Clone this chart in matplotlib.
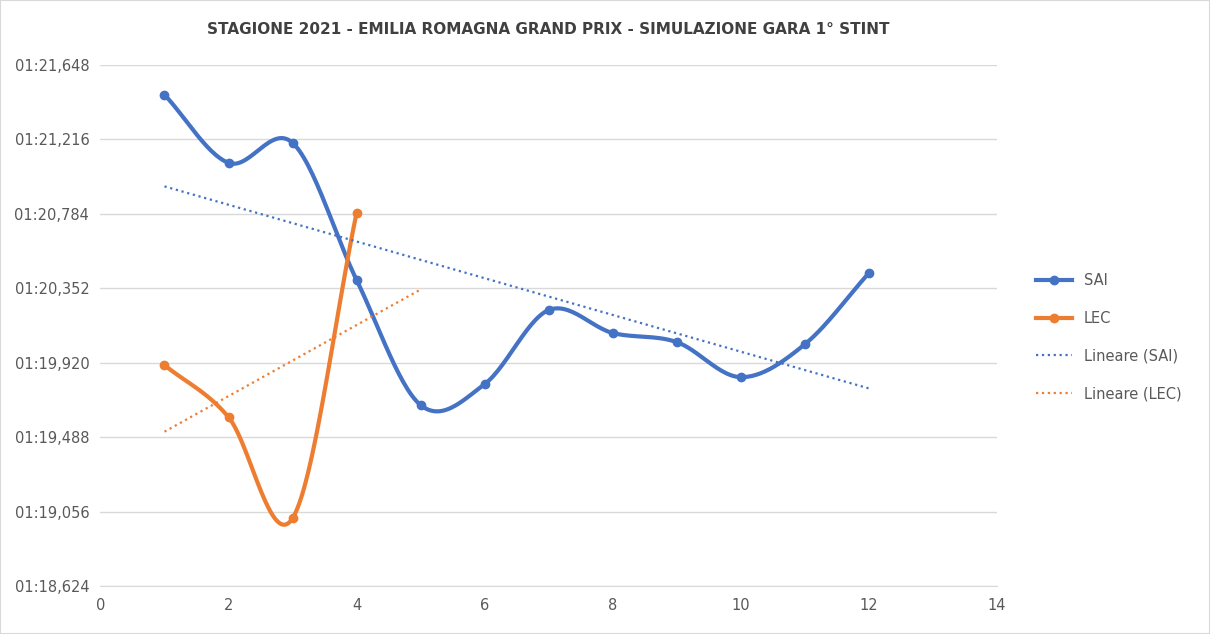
import numpy as np
import matplotlib.pyplot as plt
from matplotlib.ticker import FuncFormatter
from matplotlib.lines import Line2D

laps_sai = [1, 2, 3, 4, 5, 6, 7, 8, 9, 10, 11, 12]
sai = [81.474, 81.079, 81.195, 80.400, 79.675, 79.797, 80.226, 80.093, 80.040, 79.837, 80.028, 80.441]
laps_lec = [1, 2, 3, 4]
lec = [79.907, 79.605, 79.019, 80.789]
y_ticks = [78.624 + 0.432 * i for i in range(8)]

BLUE = "#4472c4"
ORANGE = "#ed7d31"


def smooth(x, y, n=30):
    # Catmull-Rom style smoothing, similar to Excel smoothed lines
    x = np.asarray(x, float)
    y = np.asarray(y, float)
    px = np.r_[2 * x[0] - x[1], x, 2 * x[-1] - x[-2]]
    py = np.r_[2 * y[0] - y[1], y, 2 * y[-1] - y[-2]]
    xs, ys = [], []
    t = np.linspace(0, 1, n)
    for i in range(1, len(px) - 2):
        for p, out in ((px, xs), (py, ys)):
            p0, p1, p2, p3 = p[i - 1], p[i], p[i + 1], p[i + 2]
            out.extend(0.5 * (2 * p1 + (-p0 + p2) * t + (2 * p0 - 5 * p1 + 4 * p2 - p3) * t ** 2
                              + (-p0 + 3 * p1 - 3 * p2 + p3) * t ** 3))
    return xs, ys


def fmt(v, _):
    m = int(v // 60)
    s = v - 60 * m
    return f"{m:02d}:{int(s):02d},{round((s - int(s)) * 1000):03d}"


fig = plt.figure(figsize=(12.1, 6.34), dpi=100)
ax = fig.add_axes([0.083, 0.075, 0.741, 0.823])

ax.plot(*smooth(laps_sai, sai), color=BLUE, lw=3)
ax.plot(laps_sai, sai, "o", color=BLUE, ms=6)
ax.plot(*smooth(laps_lec, lec), color=ORANGE, lw=3)
ax.plot(laps_lec, lec, "o", color=ORANGE, ms=6)

# linear trend lines
a, b = np.polyfit(laps_sai, sai, 1)
xs = np.array([1, 12])
ax.plot(xs, a * xs + b, ":", color=BLUE, lw=1.6)
a, b = np.polyfit(laps_lec, lec, 1)
xl = np.array([1, 5])
ax.plot(xl, a * xl + b, ":", color=ORANGE, lw=1.6)

ax.set_xlim(0, 14)
ax.set_xticks(range(0, 15, 2))
ax.set_ylim(y_ticks[0], y_ticks[-1])
ax.set_yticks(y_ticks)
ax.yaxis.set_major_formatter(FuncFormatter(fmt))
ax.grid(axis="y", color="#d9d9d9", lw=1)
ax.set_axisbelow(True)
for s in ["top", "right", "left"]:
    ax.spines[s].set_visible(False)
ax.spines["bottom"].set_color("#d9d9d9")
ax.tick_params(length=0, labelsize=10.5, colors="#595959", pad=8)

ax.set_title("STAGIONE 2021 - EMILIA ROMAGNA GRAND PRIX - SIMULAZIONE GARA 1° STINT",
             fontsize=11, fontweight="bold", color="#404040", pad=22)

handles = [Line2D([], [], color=BLUE, lw=3, marker="o", ms=6),
           Line2D([], [], color=ORANGE, lw=3, marker="o", ms=6),
           Line2D([], [], color=BLUE, lw=1.6, ls=":"),
           Line2D([], [], color=ORANGE, lw=1.6, ls=":")]
fig.legend(handles, ["SAI", "LEC", "Lineare (SAI)", "Lineare (LEC)"], loc="center left",
           bbox_to_anchor=(0.845, 0.468), frameon=False, fontsize=10.5, labelspacing=1.55,
           handlelength=2.5, labelcolor="#595959")

fig.patches.append(plt.Rectangle((0, 0), 1, 1, transform=fig.transFigure, fill=False,
                                 edgecolor="#d9d9d9", lw=1.5))
fig.savefig("out.png", dpi=100)
